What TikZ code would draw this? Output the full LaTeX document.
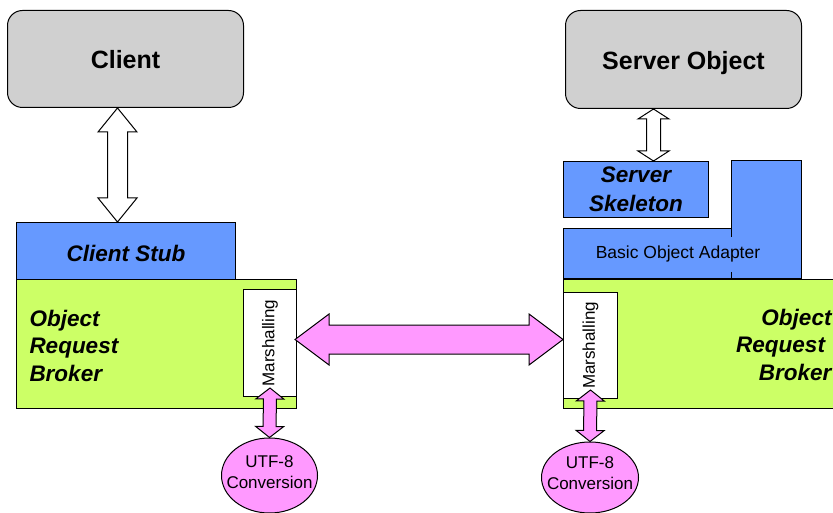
\documentclass[tikz,border=0pt]{standalone}
\usepackage{fontspec}
\setmainfont{Liberation Sans}
\usetikzlibrary{calc,shapes.geometric}

\definecolor{boxgray}{HTML}{D0D0D0}
\definecolor{layerblue}{HTML}{6699FF}
\definecolor{orbgreen}{HTML}{CCFF66}
\definecolor{linkpink}{HTML}{FF99FF}

% Block double-headed arrow between two points:
% #1 fill, #2 start, #3 end, #4 shaft half width, #5 head half width, #6 head length
\newcommand\fatarrow[6][white]{%
  \coordinate (fa-b1) at ($(#2)!#6!(#3)$);
  \coordinate (fa-b2) at ($(#3)!#6!(#2)$);
  \draw[fill=#1, line join=miter] (#2)
    -- ($(fa-b1)!#5!90:(#2)$) -- ($(fa-b1)!#4!90:(#2)$)
    -- ($(fa-b2)!#4!-90:(#3)$) -- ($(fa-b2)!#5!-90:(#3)$)
    -- (#3)
    -- ($(fa-b2)!#5!90:(#3)$) -- ($(fa-b2)!#4!90:(#3)$)
    -- ($(fa-b1)!#4!-90:(#2)$) -- ($(fa-b1)!#5!-90:(#2)$)
    -- cycle;}

\tikzset{
  box/.style={draw, line width=1pt, anchor=north west, inner sep=0pt},
  endpoint/.style={box, fill=boxgray, rounded corners=15pt},
  endtext/.style={font=\fontsize{25}{30}\selectfont\bfseries, inner sep=0pt, text depth=0pt},
  layer/.style={box, fill=layerblue},
  layertext/.style={font=\fontsize{22.5}{29}\selectfont\bfseries\itshape,
    align=center, inner sep=0pt},
  orb/.style={box, fill=orbgreen},
  marsh/.style={box, fill=white},
  orblabel/.style={font=\fontsize{22.5}{27.5}\selectfont\bfseries\itshape, inner sep=0pt},
  smalltext/.style={font=\fontsize{17}{20.5}\selectfont, inner sep=0pt},
  utf/.style={draw, line width=1pt, ellipse, fill=linkpink, inner sep=0pt},
}

\begin{document}
\begin{tikzpicture}[x=1pt, y=-1pt, line width=1pt]
\useasboundingbox (0,0) rectangle (833,513);

% application ends
\node[endpoint, minimum width=236pt, minimum height=97pt] (client) at (7,10) {};
\node[endtext] at ([yshift=-0.5pt]client.center) {Client};
\node[endpoint, minimum width=236pt, minimum height=98pt] (server) at (565,10) {};
\node[endtext] at ([yshift=-1pt]server.center) {Server Object};

% client side
\node[layer, minimum width=219pt, minimum height=57pt] (stub) at (16,222) {};
\node[layertext, text depth=0pt] at ([yshift=-2.5pt]stub.center) {Client Stub};
\node[orb, minimum width=280pt, minimum height=129pt] (orbL) at (16,279) {};
\node[marsh, minimum width=53pt, minimum height=107pt] (mL) at (243,289) {};
\node[orblabel, align=left, anchor=west] at (29,345.5) {Object\\Request\\Broker};
\node[smalltext, rotate=90] at (mL.center) {Marshalling};

% server side
\node[layer, minimum width=145pt, minimum height=56pt] (skel) at (563,161) {};
\node[layertext] at (skel.center) {Server\\Skeleton};
\draw[fill=layerblue] (563,229) -- (731,229) -- (731,161) -- (801,161)
  -- (801,279) -- (563,279) -- cycle;
\draw (731,229) -- (731,237) (731,272) -- (731,279);
\node[smalltext, font=\fontsize{17.5}{20}\selectfont] (boa) at (678,254) {Basic Object Adapter};
\node[orb, minimum width=290pt, minimum height=129pt] (orbR) at (563,279) {};
\node[marsh, minimum width=54pt, minimum height=106pt] (mR) at (563,292) {};
\node[orblabel, align=right, anchor=east] at (832,344.5)
  {Object\\Request\rule{6.5pt}{0pt}\\Broker};
\node[smalltext, rotate=90] at (mR.center) {Marshalling};

% conversion stages
\node[utf, minimum width=96pt, minimum height=75pt] (utfL) at (269.5,475.5) {};
\node[smalltext, align=center] at (269.5,472) {UTF-8\\Conversion};
\node[utf, minimum width=97pt, minimum height=71pt] (utfR) at (590,477.5) {};
\node[smalltext, align=center] at (590,473) {UTF-8\\Conversion};

% connectors
\coordinate (ca) at ([xshift=-8pt]client.south);
\coordinate (cb) at (ca |- stub.north);
\fatarrow{ca}{cb}{10pt}{19.5pt}{24pt}

\coordinate (sa) at ([xshift=-30pt]server.south);
\coordinate (sb) at (sa |- skel.north);
\fatarrow{sa}{sb}{7pt}{15.5pt}{10pt}

\coordinate (ml) at ($(mL.east)+(-2,-3.5)$);
\coordinate (mr) at (orbR.west |- ml);
\fatarrow[linkpink]{ml}{mr}{14.5pt}{25.5pt}{34pt}

\coordinate (ul) at ([yshift=9pt]mL.south);
\fatarrow[linkpink]{ul}{utfL.north}{6.5pt}{14pt}{11pt}

\coordinate (ur) at ([yshift=9pt]mR.south);
\fatarrow[linkpink]{ur}{utfR.north}{6.5pt}{14pt}{11pt}
\end{tikzpicture}
\end{document}
